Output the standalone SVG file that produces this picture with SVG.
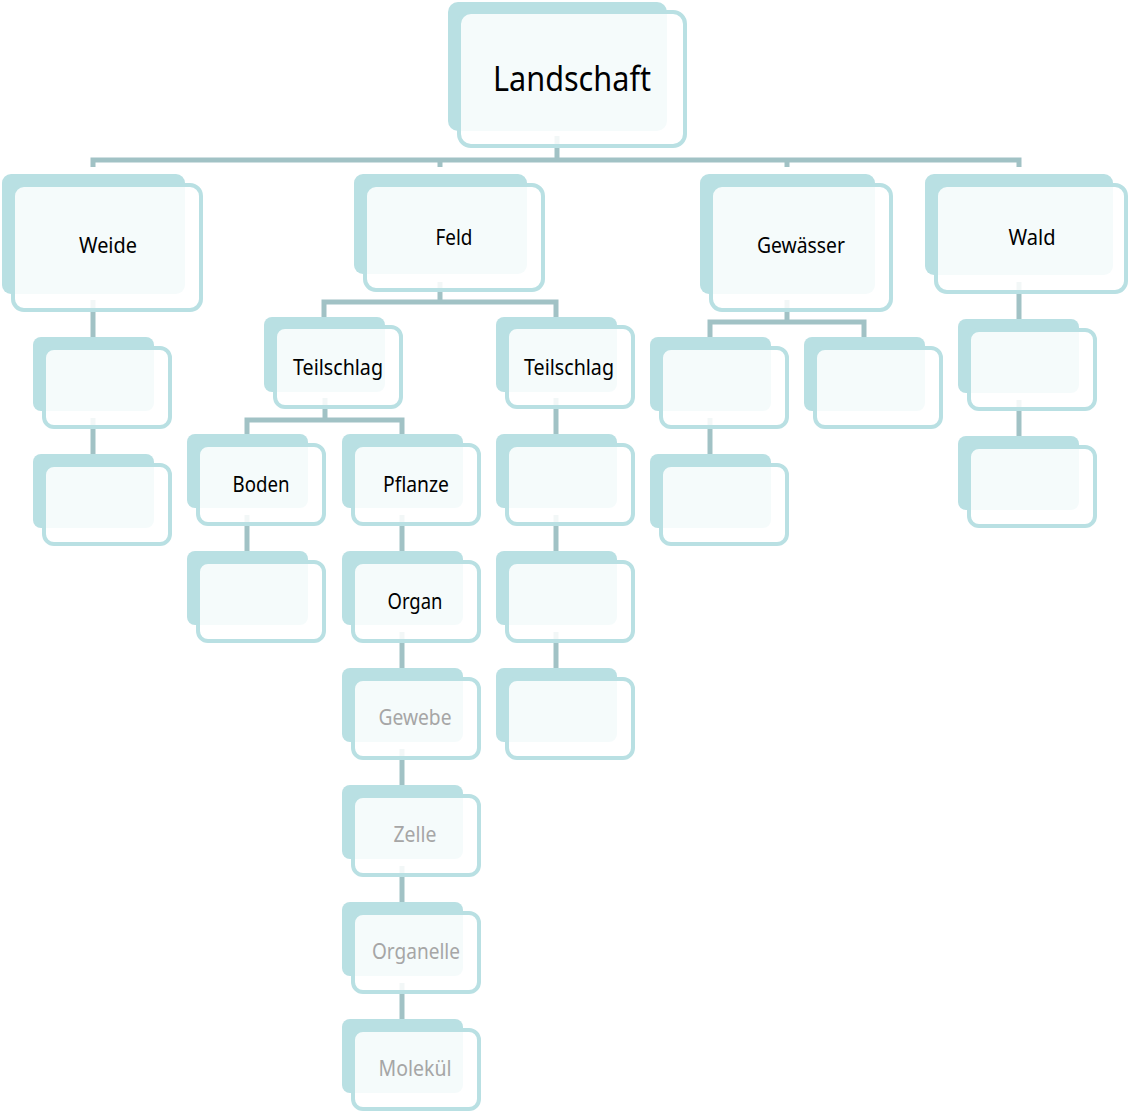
<svg xmlns="http://www.w3.org/2000/svg" width="1128" height="1111" viewBox="0 0 1128 1111">
  <style>
    .back { fill: #b9e0e3; }
    .front { fill: #ffffff; fill-opacity: 0.86; stroke: #b9e0e3; stroke-width: 4; }
    .conn { fill: none; stroke: #a1c2c5; stroke-width: 5; stroke-linejoin: miter; }
    .lbl { font-family: "Noto Sans", "DejaVu Sans", sans-serif; font-size: 22px; fill: #000000; text-anchor: middle; }
    .dim { fill: #a6a6a6; }
    .big { font-size: 34px; }
  </style>
  <rect width="1128" height="1111" fill="#ffffff"/>

  <!-- connectors, drawn under the boxes -->
  <g id="connectors" class="conn">
    <path d="M557,136 V160"/>
    <path d="M93,167 V160 H1019 V167"/>
    <path d="M440,160 V167"/>
    <path d="M787,160 V167"/>
    <path d="M93,300 V337"/>
    <path d="M93,418 V454"/>
    <path d="M440,282 V302"/>
    <path d="M324,318 V302 H556 V318"/>
    <path d="M325,398 V420"/>
    <path d="M247,434 V420 H402 V434"/>
    <path d="M247,515 V551"/>
    <path d="M402,515 V551"/>
    <path d="M402,632 V668"/>
    <path d="M402,749 V785"/>
    <path d="M402,866 V902"/>
    <path d="M402,983 V1019"/>
    <path d="M556,398 V434"/>
    <path d="M556,515 V551"/>
    <path d="M556,632 V668"/>
    <path d="M787,300 V322"/>
    <path d="M710,337 V322 H864 V337"/>
    <path d="M710,418 V454"/>
    <path d="M1019,282 V319"/>
    <path d="M1019,400 V436"/>
  </g>

  <g id="landschaft">
    <rect class="back" x="448" y="2" width="219" height="129" rx="10"/>
    <rect class="front" x="459" y="12" width="226" height="134" rx="12"/>
    <text class="lbl big" x="572" y="91" textLength="158" lengthAdjust="spacingAndGlyphs">Landschaft</text>
  </g>

  <g id="weide">
    <rect class="back" x="2" y="174" width="183" height="120" rx="9"/>
    <rect class="front" x="13" y="185" width="188" height="125" rx="11"/>
    <text class="lbl" x="108" y="253" textLength="58" lengthAdjust="spacingAndGlyphs">Weide</text>
  </g>
  <g id="weide-1">
    <rect class="back" x="33" y="337" width="121" height="74" rx="8"/>
    <rect class="front" x="44" y="348" width="126" height="79" rx="10"/>
  </g>
  <g id="weide-2">
    <rect class="back" x="33" y="454" width="121" height="74" rx="8"/>
    <rect class="front" x="44" y="465" width="126" height="79" rx="10"/>
  </g>

  <g id="feld">
    <rect class="back" x="354" y="174" width="173" height="100" rx="9"/>
    <rect class="front" x="365" y="185" width="178" height="105" rx="11"/>
    <text class="lbl" x="454" y="245" textLength="37" lengthAdjust="spacingAndGlyphs">Feld</text>
  </g>
  <g id="teilschlag-1">
    <rect class="back" x="264" y="317" width="121" height="75" rx="8"/>
    <rect class="front" x="275" y="327" width="126" height="80" rx="10"/>
    <text class="lbl" x="338" y="375" textLength="90" lengthAdjust="spacingAndGlyphs">Teilschlag</text>
  </g>
  <g id="teilschlag-2">
    <rect class="back" x="496" y="317" width="121" height="75" rx="8"/>
    <rect class="front" x="507" y="327" width="126" height="80" rx="10"/>
    <text class="lbl" x="569" y="375" textLength="90" lengthAdjust="spacingAndGlyphs">Teilschlag</text>
  </g>
  <g id="boden">
    <rect class="back" x="187" y="434" width="121" height="74" rx="8"/>
    <rect class="front" x="198" y="445" width="126" height="79" rx="10"/>
    <text class="lbl" x="261" y="492" textLength="57" lengthAdjust="spacingAndGlyphs">Boden</text>
  </g>
  <g id="boden-1">
    <rect class="back" x="187" y="551" width="121" height="74" rx="8"/>
    <rect class="front" x="198" y="562" width="126" height="79" rx="10"/>
  </g>
  <g id="pflanze">
    <rect class="back" x="342" y="434" width="121" height="74" rx="8"/>
    <rect class="front" x="353" y="445" width="126" height="79" rx="10"/>
    <text class="lbl" x="416" y="492" textLength="66" lengthAdjust="spacingAndGlyphs">Pflanze</text>
  </g>
  <g id="organ">
    <rect class="back" x="342" y="551" width="121" height="74" rx="8"/>
    <rect class="front" x="353" y="562" width="126" height="79" rx="10"/>
    <text class="lbl" x="415" y="609" textLength="55" lengthAdjust="spacingAndGlyphs">Organ</text>
  </g>
  <g id="gewebe">
    <rect class="back" x="342" y="668" width="121" height="74" rx="8"/>
    <rect class="front" x="353" y="679" width="126" height="79" rx="10"/>
    <text class="lbl dim" x="415" y="725" textLength="73" lengthAdjust="spacingAndGlyphs">Gewebe</text>
  </g>
  <g id="zelle">
    <rect class="back" x="342" y="785" width="121" height="74" rx="8"/>
    <rect class="front" x="353" y="796" width="126" height="79" rx="10"/>
    <text class="lbl dim" x="415" y="842" textLength="43" lengthAdjust="spacingAndGlyphs">Zelle</text>
  </g>
  <g id="organelle">
    <rect class="back" x="342" y="902" width="121" height="74" rx="8"/>
    <rect class="front" x="353" y="913" width="126" height="79" rx="10"/>
    <text class="lbl dim" x="416" y="959" textLength="88" lengthAdjust="spacingAndGlyphs">Organelle</text>
  </g>
  <g id="molekuel">
    <rect class="back" x="342" y="1019" width="121" height="74" rx="8"/>
    <rect class="front" x="353" y="1030" width="126" height="79" rx="10"/>
    <text class="lbl dim" x="415" y="1076" textLength="73" lengthAdjust="spacingAndGlyphs">Molekül</text>
  </g>
  <g id="teilschlag-2-1">
    <rect class="back" x="496" y="434" width="121" height="74" rx="8"/>
    <rect class="front" x="507" y="445" width="126" height="79" rx="10"/>
  </g>
  <g id="teilschlag-2-2">
    <rect class="back" x="496" y="551" width="121" height="74" rx="8"/>
    <rect class="front" x="507" y="562" width="126" height="79" rx="10"/>
  </g>
  <g id="teilschlag-2-3">
    <rect class="back" x="496" y="668" width="121" height="74" rx="8"/>
    <rect class="front" x="507" y="679" width="126" height="79" rx="10"/>
  </g>

  <g id="gewaesser">
    <rect class="back" x="700" y="174" width="175" height="120" rx="9"/>
    <rect class="front" x="711" y="185" width="180" height="125" rx="11"/>
    <text class="lbl" x="801" y="253" textLength="88" lengthAdjust="spacingAndGlyphs">Gewässer</text>
  </g>
  <g id="gewaesser-1">
    <rect class="back" x="650" y="337" width="121" height="74" rx="8"/>
    <rect class="front" x="661" y="348" width="126" height="79" rx="10"/>
  </g>
  <g id="gewaesser-2">
    <rect class="back" x="804" y="337" width="121" height="74" rx="8"/>
    <rect class="front" x="815" y="348" width="126" height="79" rx="10"/>
  </g>
  <g id="gewaesser-1-1">
    <rect class="back" x="650" y="454" width="121" height="74" rx="8"/>
    <rect class="front" x="661" y="465" width="126" height="79" rx="10"/>
  </g>

  <g id="wald">
    <rect class="back" x="925" y="174" width="188" height="101" rx="9"/>
    <rect class="front" x="936" y="185" width="190" height="107" rx="11"/>
    <text class="lbl" x="1032" y="245" textLength="47" lengthAdjust="spacingAndGlyphs">Wald</text>
  </g>
  <g id="wald-1">
    <rect class="back" x="958" y="319" width="121" height="74" rx="8"/>
    <rect class="front" x="969" y="330" width="126" height="79" rx="10"/>
  </g>
  <g id="wald-2">
    <rect class="back" x="958" y="436" width="121" height="74" rx="8"/>
    <rect class="front" x="969" y="447" width="126" height="79" rx="10"/>
  </g>
</svg>
